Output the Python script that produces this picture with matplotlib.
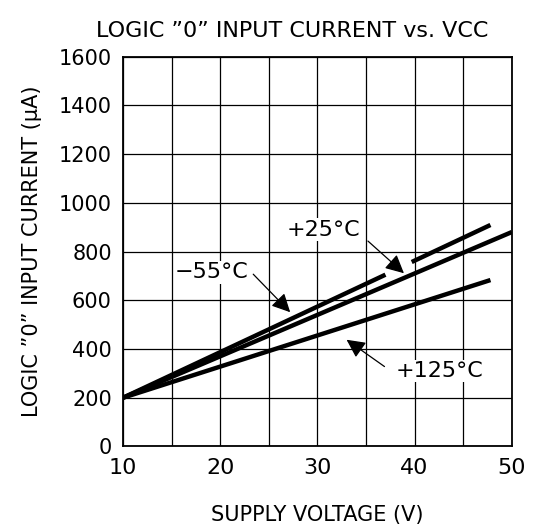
import numpy as np
import matplotlib.pyplot as plt

# Supply voltage (V) and logic "0" input current (uA) for each temperature
v_m55 = [10, 37.0]
i_m55 = [200, 705]
v_m55b = [39.7, 47.8]
i_m55b = [757, 909]

v_25 = [10, 50]
i_25 = [200, 880]

v_125 = [10, 47.8]
i_125 = [200, 683]

x_ticks = [10, 20, 30, 40, 50]
y_ticks = [0, 200, 400, 600, 800, 1000, 1200, 1400, 1600]

plt.rcParams['font.family'] = ['DejaVu Sans']

fig = plt.figure(figsize=(5.5, 5.29), dpi=100)
ax = fig.add_axes([0.2236, 0.156, 0.707, 0.737])

lw = 3.2
ax.plot(v_m55, i_m55, color='k', lw=lw, solid_capstyle='butt', zorder=3)
ax.plot(v_m55b, i_m55b, color='k', lw=lw, solid_capstyle='butt', zorder=3)
ax.plot(v_25, i_25, color='k', lw=lw, solid_capstyle='butt', zorder=3)
ax.plot(v_125, i_125, color='k', lw=lw, solid_capstyle='butt', zorder=3)

ax.set_xlim(10, 50)
ax.set_ylim(0, 1600)
ax.set_xticks(x_ticks)
ax.set_xticks(np.arange(10, 51, 5), minor=True)
ax.set_yticks(y_ticks)
ax.grid(True, which='both', color='k', lw=0.9)
ax.tick_params(which='both', length=0, labelsize=15, pad=8)
ax.tick_params(axis='x', labelsize=16, pad=8)
for s in ax.spines.values():
    s.set_linewidth(1.3)

arrow = dict(arrowstyle='-|>', color='k', lw=0.9, mutation_scale=28, shrinkA=0, shrinkB=0)
box = dict(facecolor='white', edgecolor='none', pad=1)
fs = 16

ax.annotate('', xy=(27.2, 551), xytext=(23.4, 707), arrowprops=arrow, zorder=4)
ax.text(19.15, 715, '\u221255\u00b0C', fontsize=fs, ha='center', va='center', bbox=box, zorder=5)

ax.annotate('', xy=(38.9, 711), xytext=(35.2, 843), arrowprops=arrow, zorder=4)
ax.text(30.6, 890, '+25\u00b0C', fontsize=fs, ha='center', va='center', bbox=box, zorder=5)

ax.annotate('', xy=(33.0, 438), xytext=(36.9, 328), arrowprops=arrow, zorder=4)
ax.text(42.6, 310, '+125\u00b0C', fontsize=fs, ha='center', va='center', bbox=box, zorder=5)

ax.set_title('LOGIC \u201d0\u201d INPUT CURRENT vs. VCC', fontsize=16, pad=14, x=0.434)
ax.set_xlabel('SUPPLY VOLTAGE (V)', fontsize=15, labelpad=20)
ax.set_ylabel('LOGIC \u201d0\u201d INPUT CURRENT (\u03bcA)', fontsize=15, labelpad=12)

fig.savefig('out.png', dpi=100)
